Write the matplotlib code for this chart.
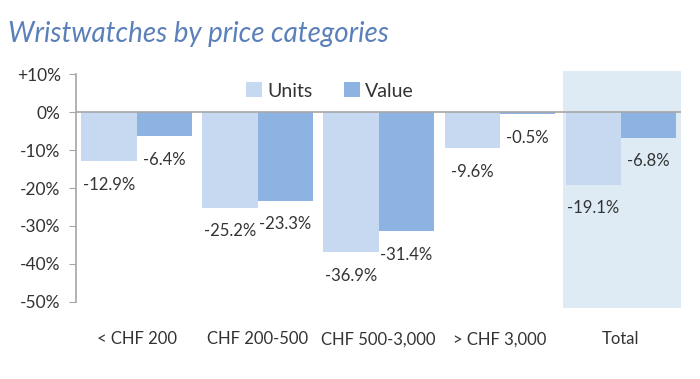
import matplotlib
matplotlib.use("Agg")
import matplotlib.pyplot as plt
from matplotlib.patches import Rectangle

categories = ["< CHF 200", "CHF 200-500", "CHF 500-3,000", "> CHF 3,000", "Total"]
units = [-12.9, -25.2, -36.9, -9.6, -19.1]
value = [-6.4, -23.3, -31.4, -0.5, -6.8]
yticks = [10, 0, -10, -20, -30, -40, -50]
ytick_labels = ["+10%", "0%", "-10%", "-20%", "-30%", "-40%", "-50%"]

plt.rcParams['font.family'] = ['Lato', 'DejaVu Sans']
text_col = "#333333"
c_units = "#c6d9f0"
c_value = "#8db3e2"

fig = plt.figure(figsize=(7, 3.79), dpi=100)
ax = fig.add_axes([0.1086, 0.2032, 0.8644, 0.6015])
ax.set_xlim(-0.5, 4.5)
ax.set_ylim(-50, 10)

# highlight box for Total
ax.add_patch(Rectangle((3.52, -51.6), 0.98, 62.3, facecolor="#deebf5",
                       edgecolor="none", zorder=0, clip_on=False))

w = 0.455
x = list(range(len(categories)))
b1 = ax.bar([i - w/2 for i in x], units, width=w, color=c_units, label="Units", zorder=2)
b2 = ax.bar([i + w/2 for i in x], value, width=w, color=c_value, label="Value", zorder=2)

for bars, vals in ((b1, units), (b2, value)):
    for r, v in zip(bars, vals):
        ax.annotate(f"{v:.1f}%", (r.get_x() + r.get_width()/2, v),
                    xytext=(0, -17), textcoords="offset points",
                    ha="center", va="center", fontsize=12, color=text_col)

ax.axhline(0, color="#a6a6a6", lw=1.2, zorder=3)
for s in ("top", "right", "bottom"):
    ax.spines[s].set_visible(False)
ax.spines["left"].set_color("#a6a6a6")
ax.spines["left"].set_linewidth(1.2)
ax.set_yticks(yticks)
ax.set_yticklabels(ytick_labels, fontsize=12.5, color=text_col)
ax.tick_params(axis="y", length=5, color="#a6a6a6", pad=6)
ax.set_xticks(x)
ax.set_xticklabels(categories, fontsize=12, color=text_col)
ax.tick_params(axis="x", length=0, pad=21)

leg = ax.legend(loc="upper center", bbox_to_anchor=(0.42, 1.04), ncol=2, frameon=False,
                fontsize=14, handlelength=0.8, handleheight=0.8, handletextpad=0.3,
                columnspacing=1.6, labelcolor=text_col)

fig.text(0.012, 0.91, "Wristwatches by price categories", fontsize=20,
         style="italic", color="#5b80b9", ha="left", va="center")

fig.savefig("out.png", dpi=100, facecolor="white")
